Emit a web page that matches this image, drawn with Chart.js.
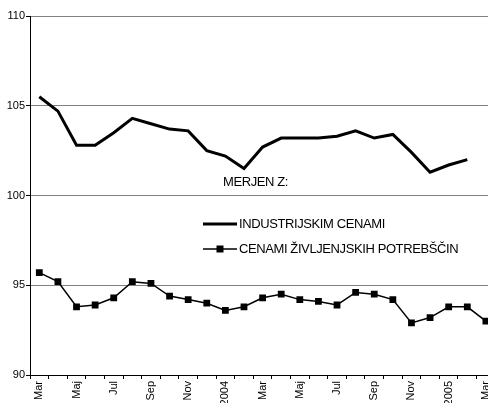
<!DOCTYPE html>
<html>
<head>
<meta charset="utf-8">
<script src="https://cdn.jsdelivr.net/npm/chart.js@4/dist/chart.umd.min.js"></script>
<style>
  html, body { margin: 0; padding: 0; background: #fff; overflow: hidden; }
  #wrap { position: absolute; left: 0; top: 0; width: 500px; height: 403px; }
</style>
</head>
<body>
<div id="wrap"><canvas id="chart" width="500" height="403"></canvas></div>
<script>
// months Mar 2003 .. Mar 2005
const months = ["Mar", "Apr", "Maj", "Jun", "Jul", "Avg", "Sep", "Okt", "Nov", "Dec",
  "2004", "Feb", "Mar", "Apr", "Maj", "Jun", "Jul", "Avg", "Sep", "Okt", "Nov", "Dec",
  "2005", "Feb", "Mar"];
const industrijske = [105.5, 104.7, 102.8, 102.8, 103.5, 104.3, 104.0, 103.7, 103.6, 102.5,
  102.2, 101.5, 102.7, 103.2, 103.2, 103.2, 103.3, 103.6, 103.2, 103.4, 102.4, 101.3,
  101.7, 102.0, null];
const zivljenjske = [95.7, 95.2, 93.8, 93.9, 94.3, 95.2, 95.1, 94.4, 94.2, 94.0,
  93.6, 93.8, 94.3, 94.5, 94.2, 94.1, 93.9, 94.6, 94.5, 94.2, 92.9, 93.2,
  93.8, 93.8, 93.0];
const yTicks = [90, 95, 100, 105, 110];
const seriesNames = ["INDUSTRIJSKIM CENAMI", "CENAMI ŽIVLJENJSKIH POTREBŠČIN"];
const legendTitle = "MERJEN Z:";

const fontFamily = "'Liberation Sans', Arial, sans-serif";

const legendPlugin = {
  id: "legendInside",
  afterDatasetsDraw(chart) {
    const ctx = chart.ctx;
    ctx.save();
    ctx.fillStyle = "#000";
    ctx.strokeStyle = "#000";
    ctx.font = "13px " + fontFamily;
    ctx.letterSpacing = "-0.4px";
    ctx.textBaseline = "middle";
    ctx.textAlign = "left";
    ctx.fillText(legendTitle, 223, 182);

    // industrial line sample
    ctx.lineWidth = 3;
    ctx.beginPath();
    ctx.moveTo(203, 224);
    ctx.lineTo(237, 224);
    ctx.stroke();
    ctx.fillText(seriesNames[0], 239, 224);

    // cpi sample
    ctx.lineWidth = 1.5;
    ctx.beginPath();
    ctx.moveTo(203, 249);
    ctx.lineTo(237, 249);
    ctx.stroke();
    ctx.fillRect(216.5, 245.5, 7, 7);
    ctx.fillText(seriesNames[1], 239, 249);
    ctx.restore();
  }
};

new Chart(document.getElementById("chart"), {
  type: "line",
  data: {
    labels: months,
    datasets: [
      {
        label: seriesNames[0],
        data: industrijske,
        borderColor: "#000",
        borderWidth: 3,
        pointRadius: 0,
        tension: 0,
        spanGaps: false
      },
      {
        label: seriesNames[1],
        data: zivljenjske,
        borderColor: "#000",
        backgroundColor: "#000",
        borderWidth: 1.5,
        pointStyle: "rect",
        pointRadius: 4.8,
        pointBorderWidth: 0,
        tension: 0
      }
    ]
  },
  options: {
    responsive: false,
    animation: false,
    layout: { padding: { top: 16, left: 0, right: 0, bottom: 0 } },
    plugins: {
      legend: { display: false },
      tooltip: { enabled: false }
    },
    scales: {
      x: {
        offset: true,
        afterFit(scale) {
          scale.height = 28;
          scale.paddingLeft = 0;
          scale.paddingRight = 0;
        },
        border: { color: "#000", width: 1 },
        grid: {
          offset: true,
          drawOnChartArea: false,
          drawTicks: true,
          tickLength: 4,
          tickColor: "#000"
        },
        ticks: {
          autoSkip: false,
          maxRotation: 90,
          minRotation: 90,
          padding: 2,
          color: "#000",
          font: { family: fontFamily, size: 11 },
          callback(value, index) {
            return index % 2 === 0 ? months[index] : "";
          }
        }
      },
      y: {
        min: yTicks[0],
        max: yTicks[yTicks.length - 1],
        afterFit(scale) {
          scale.width = 30;
          scale.paddingTop = 0;
          scale.paddingBottom = 0;
        },
        afterBuildTicks(scale) {
          scale.ticks = yTicks.map(v => ({ value: v }));
        },
        border: { color: "#000", width: 1 },
        grid: {
          color: "#808080",
          lineWidth: 1,
          drawTicks: true,
          tickLength: 4,
          tickColor: "#000"
        },
        ticks: {
          padding: 1,
          color: "#000",
          font: { family: fontFamily, size: 11 }
        }
      }
    }
  },
  plugins: [legendPlugin]
});
</script>
</body>
</html>
